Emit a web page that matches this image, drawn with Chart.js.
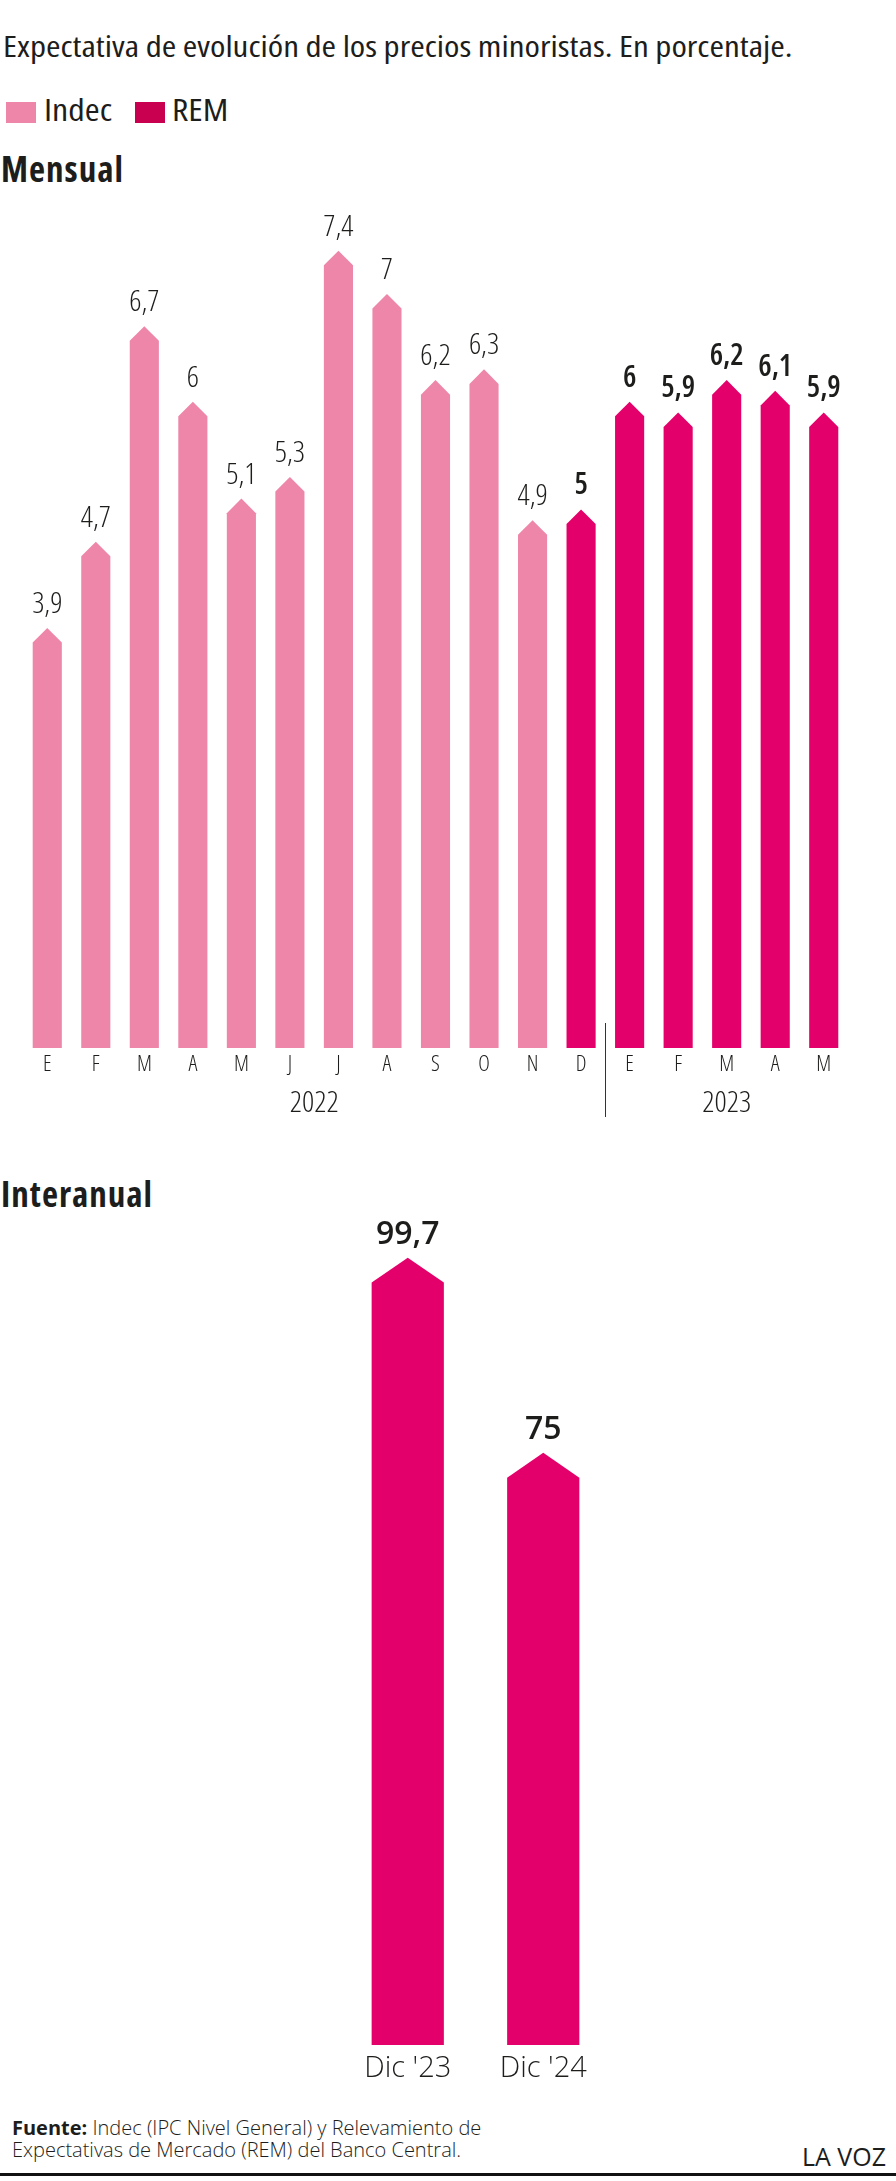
<!DOCTYPE html>
<html>
<head>
<meta charset="utf-8">
<script src="https://cdn.jsdelivr.net/npm/chart.js@4.4.0/dist/chart.umd.min.js"></script>
<style>
  body { margin: 0; width: 896px; height: 2181px; position: relative; background: #fff; overflow: hidden;
         font-family: "Open Sans", sans-serif; font-stretch: 75%; color: #1d1d1b; }
  .abs { position: absolute; white-space: nowrap; line-height: 1; }
  .caja { position: absolute; width: 30px; height: 21px; }
  #titulo { left: 3px; top: 31px; font-size: 29.5px; transform: scaleX(1.19); transform-origin: 0 0; }
  .ley { top: 95px; font-size: 30px; transform: scaleX(1.2); transform-origin: 0 0; }
  .seccion { left: 1px; font-size: 35px; font-weight: 700; letter-spacing: 1px; }
  #fuente { left: 12px; top: 2117px; font-size: 20px; line-height: 22px; font-weight: 300; font-stretch: 100%; }
  #fuente b { font-weight: 700; }
  #lavoz { right: 10px; top: 2144px; font-size: 25px; font-stretch: 100%; }
  #linea { position: absolute; left: 0; top: 2173px; width: 896px; height: 3px; background: #111; }
</style>
</head>
<body>
<div id="titulo" class="abs">Expectativa de evolución de los precios minoristas. En porcentaje.</div>
<div class="caja" style="left:6px;top:102px;background:#ee86a9"></div>
<div class="abs ley" style="left:44px">Indec</div>
<div class="caja" style="left:135px;top:102px;background:#c8004f"></div>
<div class="abs ley" style="left:172px">REM</div>
<div class="abs seccion" style="top:151px">Mensual</div>

<div class="abs" style="left:0;top:130px;width:896px;height:1000px"><canvas id="mensual"></canvas></div>

<div class="abs seccion" style="top:1176px">Interanual</div>

<div class="abs" style="left:0;top:1190px;width:896px;height:910px"><canvas id="interanual"></canvas></div>

<div id="fuente" class="abs"><b>Fuente:</b> Indec (IPC Nivel General) y Relevamiento de<br>Expectativas de Mercado (REM) del Banco Central.</div>
<div id="lavoz" class="abs">LA VOZ</div>
<div id="linea"></div>

<script>
const meses = ['E', 'F', 'M', 'A', 'M', 'J', 'J', 'A', 'S', 'O', 'N', 'D', 'E', 'F', 'M', 'A', 'M'];
const indec = [3.9, 4.7, 6.7, 6, 5.1, 5.3, 7.4, 7, 6.2, 6.3, 4.9, null, null, null, null, null, null];
const rem = [null, null, null, null, null, null, null, null, null, null, null, 5, 6, 5.9, 6.2, 6.1, 5.9];
const anios = ['2022', '2023'];
const aniosDesde = [0, 12];
const aniosHasta = [11, 16];

const periodos = ["Dic '23", "Dic '24"];
const interanual = [99.7, 75];

const rosa = '#ee86a9';
const magenta = '#e3006a';
const texto = '#1d1d1b';

const coma = v => String(v).replace('.', ',');

// barras con punta de flecha + etiquetas de valor
const flechas = {
  id: 'flechas',
  beforeDatasetDraw(chart, args, opts) {
    const ctx = chart.ctx;
    const data = chart.data.datasets[args.index].data;
    args.meta.data.forEach((bar, i) => {
      if (data[i] == null) return;
      const m = bar.width / 2;
      const h = m * opts.punta;
      ctx.save();
      ctx.fillStyle = bar.options.backgroundColor;
      ctx.beginPath();
      ctx.moveTo(bar.x - m, bar.base);
      ctx.lineTo(bar.x - m, bar.y + h);
      ctx.lineTo(bar.x, bar.y);
      ctx.lineTo(bar.x + m, bar.y + h);
      ctx.lineTo(bar.x + m, bar.base);
      ctx.closePath();
      ctx.fill();
      ctx.restore();
    });
    return false;
  },
  afterDatasetsDraw(chart, args, opts) {
    const ctx = chart.ctx;
    chart.data.datasets.forEach((ds, d) => {
      chart.getDatasetMeta(d).data.forEach((bar, i) => {
        if (ds.data[i] == null) return;
        ctx.save();
        ctx.font = opts.fuentes[d];
        ctx.fillStyle = texto;
        ctx.textAlign = 'center';
        ctx.textBaseline = 'alphabetic';
        ctx.fillText(coma(ds.data[i]), bar.x, bar.y - opts.separacion);
        ctx.restore();
      });
    });
  }
};

// años debajo de los meses y línea divisoria
const anioPlugin = {
  id: 'anios',
  afterDraw(chart) {
    const ctx = chart.ctx;
    const x = chart.scales.x;
    const abajo = chart.chartArea.bottom;
    ctx.save();
    ctx.font = '300 semi-condensed 30px "Open Sans"';
    ctx.fillStyle = texto;
    ctx.textAlign = 'center';
    ctx.textBaseline = 'alphabetic';
    anios.forEach((a, k) => {
      const cx = (x.getPixelForValue(aniosDesde[k]) + x.getPixelForValue(aniosHasta[k])) / 2;
      ctx.fillText(a, cx, abajo + 72);
    });
    const sep = (x.getPixelForValue(aniosHasta[0]) + x.getPixelForValue(aniosDesde[1])) / 2;
    ctx.strokeStyle = '#333';
    ctx.lineWidth = 1;
    ctx.beginPath();
    ctx.moveTo(Math.round(sep) + 0.5, abajo - 17);
    ctx.lineTo(Math.round(sep) + 0.5, abajo + 77);
    ctx.stroke();
    ctx.restore();
  }
};

const ejeX = (alto, fuente, pad) => ({
  grid: { display: false, drawTicks: false },
  border: { display: false },
  ticks: { color: texto, font: fuente, padding: pad, maxRotation: 0, autoSkip: false },
  afterFit(s) { s.height = alto; }
});

new Chart(document.getElementById('mensual'), {
  type: 'bar',
  data: {
    labels: meses,
    datasets: [
      { label: 'Indec', data: indec, backgroundColor: rosa, skipNull: true,
        categoryPercentage: 1, barPercentage: 0.6 },
      { label: 'REM', data: rem, backgroundColor: magenta, skipNull: true,
        categoryPercentage: 1, barPercentage: 0.6 }
    ]
  },
  options: {
    responsive: true,
    maintainAspectRatio: false,
    animation: false,
    layout: { padding: { left: 23, right: 48, top: 40, bottom: 0 } },
    scales: {
      x: ejeX(90, { family: '"Open Sans"', size: 22, weight: '300 semi-condensed' }, 12),
      y: { display: false, min: 0.075, max: 8.15 }
    },
    plugins: {
      legend: { display: false },
      tooltip: { enabled: false },
      flechas: {
        punta: 1,
        separacion: 15,
        fuentes: ['300 semi-condensed 30px "Open Sans"', '600 semi-condensed 30px "Open Sans"']
      }
    }
  },
  plugins: [flechas, anioPlugin]
});

new Chart(document.getElementById('interanual'), {
  type: 'bar',
  data: {
    labels: periodos,
    datasets: [
      { label: 'REM', data: interanual, backgroundColor: magenta,
        categoryPercentage: 1, barPercentage: 0.533 }
    ]
  },
  options: {
    responsive: true,
    maintainAspectRatio: false,
    animation: false,
    layout: { padding: { left: 340, right: 285, top: 14, bottom: 0 } },
    scales: {
      x: ejeX(61, { family: '"Open Sans"', size: 29, weight: '300' }, 12),
      y: { display: false, min: 0.76, max: 106.5 }
    },
    plugins: {
      legend: { display: false },
      tooltip: { enabled: false },
      flechas: {
        punta: 0.69,
        separacion: 14,
        fuentes: ['600 32px "Open Sans"']
      }
    }
  },
  plugins: [flechas]
});
</script>
</body>
</html>
